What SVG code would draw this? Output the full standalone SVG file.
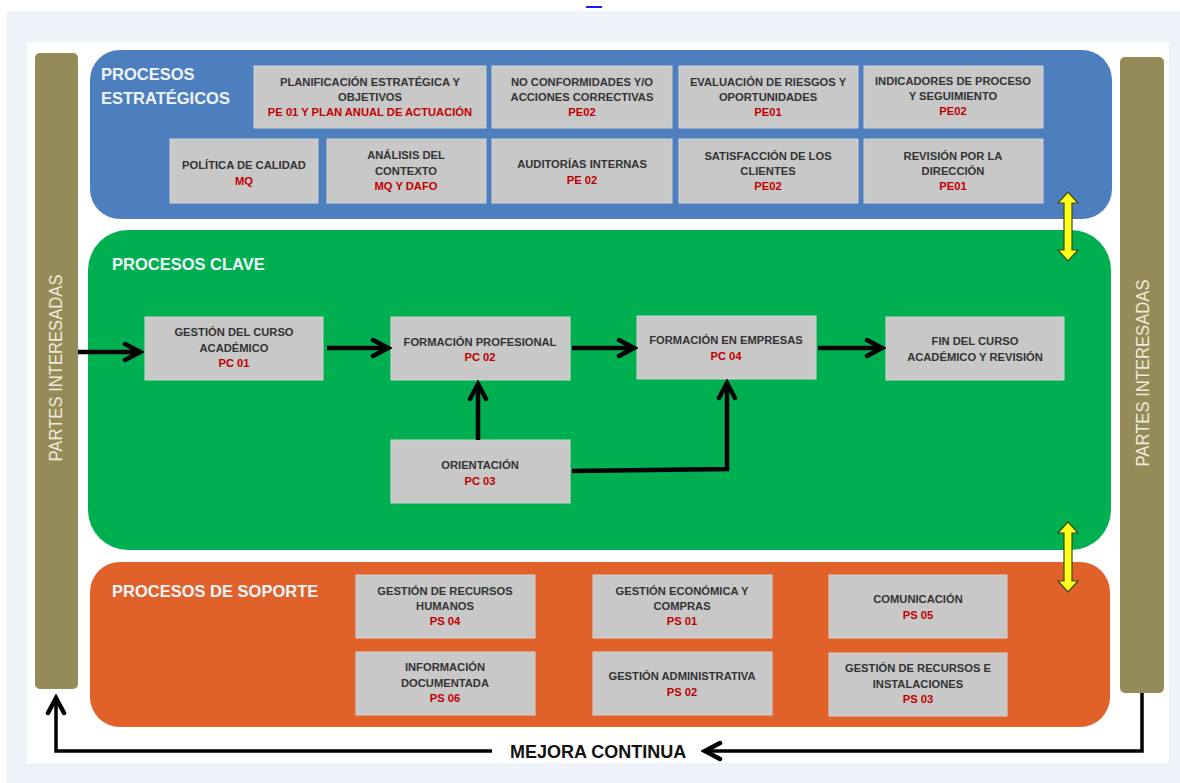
<svg xmlns="http://www.w3.org/2000/svg" width="1180" height="783" viewBox="0 0 1180 783">
<defs>
<style>
.box{fill:#c8c8c8;stroke:#d4d4d4;stroke-width:1}
.t{font-family:"Liberation Sans",Arial,sans-serif;font-weight:bold;font-size:11.2px;fill:#333333;text-anchor:middle}
.r{fill:#c00000}
.title{font-family:"Liberation Sans",Arial,sans-serif;font-weight:bold;font-size:16.5px;fill:#eef3fa}
.vert{font-family:"Liberation Sans",Arial,sans-serif;font-size:18px;fill:#efeadb;text-anchor:middle}
.bar{fill:#958b58}
.conn{stroke:#000;stroke-width:4.5;fill:none;stroke-linejoin:miter}
.conn2{stroke:#000;stroke-width:3.5;fill:none}
.yel{fill:#ffff1a;stroke:#3f4a18;stroke-width:1.2}
</style>
<marker id="ah" viewBox="-20 -12 24 24" markerUnits="userSpaceOnUse" markerWidth="24" markerHeight="24" refX="1" refY="0" orient="auto">
<path d="M-15,-8 L0,0 L-15,8" fill="none" stroke="#000" stroke-width="4.5" stroke-linecap="round"/>
</marker>
</defs>
<rect x="0" y="0" width="1180" height="783" fill="#ffffff"/>
<rect x="586" y="6" width="16" height="2" fill="#1a1aff"/>
<rect x="7" y="11" width="1173" height="772" fill="#eef2f9"/>
<rect x="27" y="42" width="1142" height="721" fill="#ffffff"/>

<g id="bar-left"><rect class="bar" x="35" y="53" width="43" height="636" rx="5"/>
<text class="vert" transform="translate(62,368) rotate(-90)" textLength="187" lengthAdjust="spacingAndGlyphs">PARTES INTERESADAS</text></g>
<g id="bar-right"><rect class="bar" x="1120" y="57" width="44" height="636" rx="5"/>
<text class="vert" transform="translate(1149,373) rotate(-90)" textLength="187" lengthAdjust="spacingAndGlyphs">PARTES INTERESADAS</text></g>

<g id="panel-estrategicos"><rect x="90" y="50" width="1022" height="169" rx="30" fill="#4d7fbf"/>
<text class="title" x="101" y="80">PROCESOS</text><text class="title" x="101" y="104">ESTRATÉGICOS</text></g>
<g id="panel-clave"><rect x="88" y="230" width="1023" height="320" rx="40" fill="#00af50"/>
<text class="title" x="112" y="270">PROCESOS CLAVE</text></g>
<g id="panel-soporte"><rect x="90" y="562" width="1020" height="165" rx="30" fill="#e0622a"/>
<text class="title" x="112" y="597">PROCESOS DE SOPORTE</text></g>

<g id="pe-planificacion"><rect class="box" x="254" y="66" width="232" height="62"/>
<text class="t" x="370" y="86">PLANIFICACIÓN ESTRATÉGICA Y</text><text class="t" x="370" y="101">OBJETIVOS</text><text class="t r" x="370" y="116">PE 01 Y PLAN ANUAL DE ACTUACIÓN</text></g>
<g id="pe-noconformidades"><rect class="box" x="492" y="66" width="180" height="62"/>
<text class="t" x="582" y="86">NO CONFORMIDADES Y/O</text><text class="t" x="582" y="101">ACCIONES CORRECTIVAS</text><text class="t r" x="582" y="116">PE02</text></g>
<g id="pe-riesgos"><rect class="box" x="679" y="66" width="179" height="62"/>
<text class="t" x="768" y="86">EVALUACIÓN DE RIESGOS Y</text><text class="t" x="768" y="101">OPORTUNIDADES</text><text class="t r" x="768" y="116">PE01</text></g>
<g id="pe-indicadores"><rect class="box" x="864" y="66" width="179" height="62"/>
<text class="t" x="953" y="85">INDICADORES DE PROCESO</text><text class="t" x="953" y="100">Y SEGUIMIENTO</text><text class="t r" x="953" y="115">PE02</text></g>
<g id="pe-politica"><rect class="box" x="170" y="139" width="148" height="64"/>
<text class="t" x="244" y="169">POLÍTICA DE CALIDAD</text><text class="t r" x="244" y="185">MQ</text></g>
<g id="pe-analisis"><rect class="box" x="327" y="139" width="159" height="64"/>
<text class="t" x="406" y="159">ANÁLISIS DEL</text><text class="t" x="406" y="175">CONTEXTO</text><text class="t r" x="406" y="190">MQ Y DAFO</text></g>
<g id="pe-auditorias"><rect class="box" x="492" y="139" width="180" height="64"/>
<text class="t" x="582" y="168">AUDITORÍAS INTERNAS</text><text class="t r" x="582" y="184">PE 02</text></g>
<g id="pe-satisfaccion"><rect class="box" x="679" y="139" width="179" height="64"/>
<text class="t" x="768" y="160">SATISFACCIÓN DE LOS</text><text class="t" x="768" y="175">CLIENTES</text><text class="t r" x="768" y="190">PE02</text></g>
<g id="pe-revision"><rect class="box" x="864" y="139" width="179" height="64"/>
<text class="t" x="953" y="160">REVISIÓN POR LA</text><text class="t" x="953" y="175">DIRECCIÓN</text><text class="t r" x="953" y="190">PE01</text></g>

<g id="pc01"><rect class="box" x="145" y="317" width="178" height="63"/>
<text class="t" x="234" y="336">GESTIÓN DEL CURSO</text><text class="t" x="234" y="352">ACADÉMICO</text><text class="t r" x="234" y="367">PC 01</text></g>
<g id="pc02"><rect class="box" x="391" y="317" width="179" height="63"/>
<text class="t" x="480" y="346">FORMACIÓN PROFESIONAL</text><text class="t r" x="480" y="361">PC 02</text></g>
<g id="pc03"><rect class="box" x="391" y="440" width="179" height="63"/>
<text class="t" x="480" y="469">ORIENTACIÓN</text><text class="t r" x="480" y="485">PC 03</text></g>
<g id="pc04"><rect class="box" x="637" y="316" width="179" height="63"/>
<text class="t" x="726" y="344">FORMACIÓN EN EMPRESAS</text><text class="t r" x="726" y="360">PC 04</text></g>
<g id="fin"><rect class="box" x="886" y="317" width="178" height="63"/>
<text class="t" x="975" y="345">FIN DEL CURSO</text><text class="t" x="975" y="361">ACADÉMICO Y REVISIÓN</text></g>

<g id="ps04"><rect class="box" x="356" y="575" width="179" height="63"/>
<text class="t" x="445" y="595">GESTIÓN DE RECURSOS</text><text class="t" x="445" y="610">HUMANOS</text><text class="t r" x="445" y="625">PS 04</text></g>
<g id="ps01"><rect class="box" x="593" y="575" width="179" height="63"/>
<text class="t" x="682" y="595">GESTIÓN ECONÓMICA Y</text><text class="t" x="682" y="610">COMPRAS</text><text class="t r" x="682" y="625">PS 01</text></g>
<g id="ps05"><rect class="box" x="829" y="575" width="178" height="63"/>
<text class="t" x="918" y="603">COMUNICACIÓN</text><text class="t r" x="918" y="619">PS 05</text></g>
<g id="ps06"><rect class="box" x="356" y="652" width="179" height="63"/>
<text class="t" x="445" y="671">INFORMACIÓN</text><text class="t" x="445" y="687">DOCUMENTADA</text><text class="t r" x="445" y="702">PS 06</text></g>
<g id="ps02"><rect class="box" x="593" y="652" width="179" height="63"/>
<text class="t" x="682" y="680">GESTIÓN ADMINISTRATIVA</text><text class="t r" x="682" y="696">PS 02</text></g>
<g id="ps03"><rect class="box" x="829" y="653" width="178" height="63"/>
<text class="t" x="918" y="672">GESTIÓN DE RECURSOS E</text><text class="t" x="918" y="688">INSTALACIONES</text><text class="t r" x="918" y="703">PS 03</text></g>

<g id="connectors">
<path class="conn" d="M78,352 H141" marker-end="url(#ah)"/>
<path class="conn" d="M327,348 H389" marker-end="url(#ah)"/>
<path class="conn" d="M572,348 H635" marker-end="url(#ah)"/>
<path class="conn" d="M818,348 H883" marker-end="url(#ah)"/>
<path class="conn" d="M478,440 V383" marker-end="url(#ah)"/>
<path class="conn" d="M572,471 L727,469 V382" marker-end="url(#ah)"/>
<path class="conn2" d="M1142,693 V751 H704" marker-end="url(#ah)"/>
<path class="conn2" d="M492,751 H56 V697" marker-end="url(#ah)"/>
<path class="yel" d="M1068,192 L1078,203 L1072,203 L1072,250 L1078,250 L1068,261 L1058,250 L1064,250 L1064,203 L1058,203 Z"/>
<path class="yel" d="M1068,522 L1078,533 L1072,533 L1072,581 L1078,581 L1068,592 L1058,581 L1064,581 L1064,533 L1058,533 Z"/>
</g>
<text x="510" y="758" font-family="Liberation Sans, Arial, sans-serif" font-weight="bold" font-size="18" fill="#111">MEJORA CONTINUA</text>
</svg>
